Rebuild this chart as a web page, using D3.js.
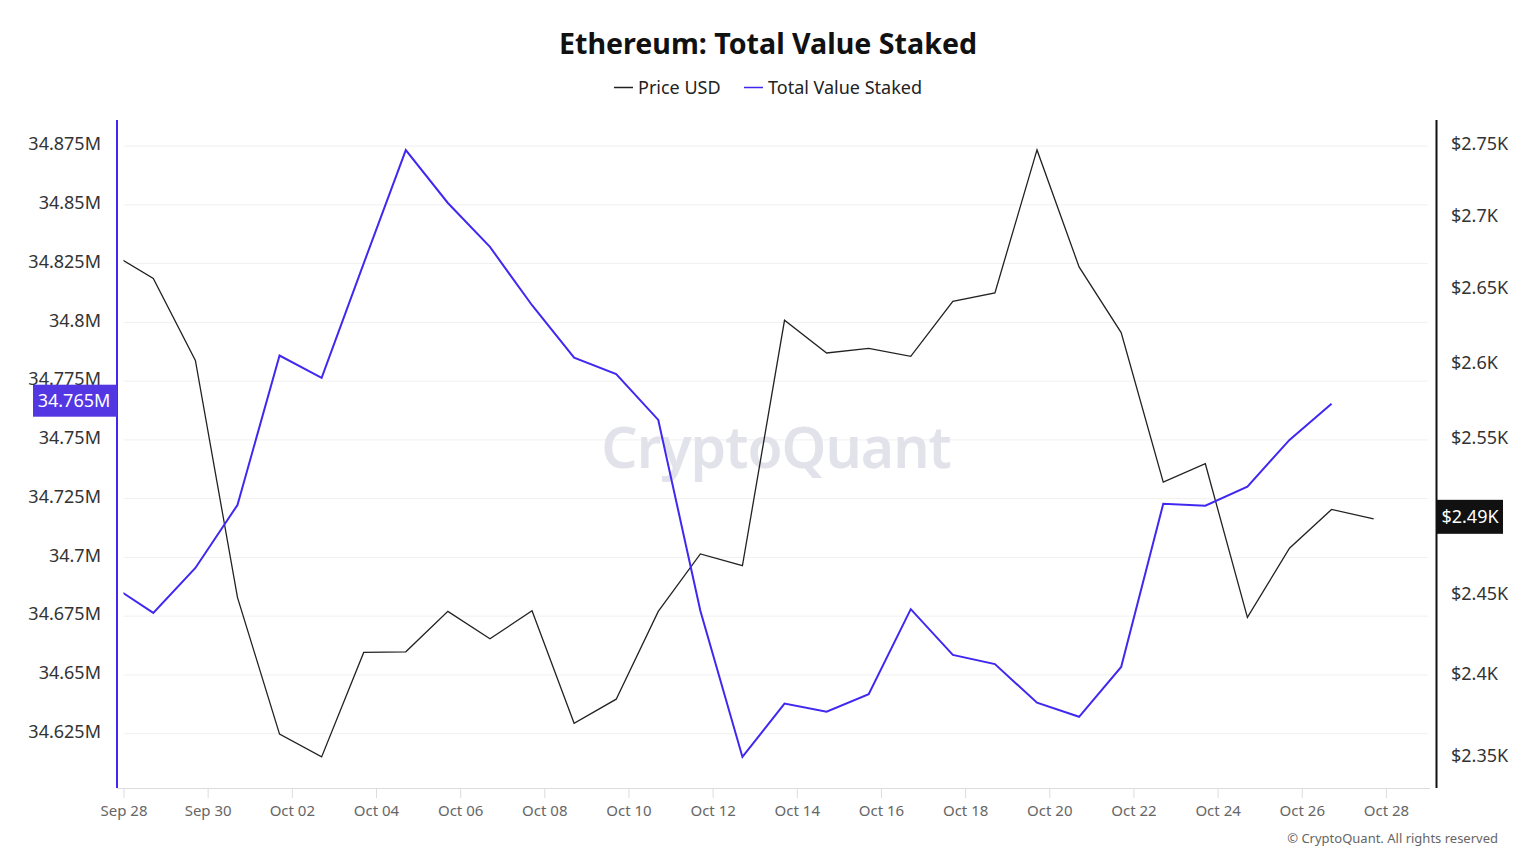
<!DOCTYPE html>
<html>
<head>
<meta charset="utf-8">
<script src="https://cdn.jsdelivr.net/npm/d3@7"></script>
<style>
  html, body { margin: 0; padding: 0; background: #fff; }
  svg { display: block; font-family: "Noto Sans", "Open Sans", sans-serif; }
</style>
</head>
<body>
<svg id="chart" width="1536" height="864"></svg>
<script>
// ---- data ----
const dates = [
  "2024-09-27 17:00","2024-09-28 17:00","2024-09-29 17:00","2024-09-30 17:00",
  "2024-10-01 17:00","2024-10-02 17:00","2024-10-03 17:00","2024-10-04 17:00",
  "2024-10-05 17:00","2024-10-06 17:00","2024-10-07 17:00","2024-10-08 17:00",
  "2024-10-09 17:00","2024-10-10 17:00","2024-10-11 17:00","2024-10-12 17:00",
  "2024-10-13 17:00","2024-10-14 17:00","2024-10-15 17:00","2024-10-16 17:00",
  "2024-10-17 17:00","2024-10-18 17:00","2024-10-19 17:00","2024-10-20 17:00",
  "2024-10-21 17:00","2024-10-22 17:00","2024-10-23 17:00","2024-10-24 17:00",
  "2024-10-25 17:00","2024-10-26 17:00","2024-10-27 17:00"
];
// Total Value Staked (millions of ETH)
const totalValueStaked = [
  34.6882, 34.6764, 34.6955, 34.7223, 34.7859, 34.7764, 34.8251, 34.8733,
  34.8508, 34.8321, 34.8073, 34.7850, 34.7780, 34.7585, 34.6773, 34.6151,
  34.6378, 34.6344, 34.6418, 34.6780, 34.6585, 34.6546, 34.6382, 34.6322,
  34.6534, 34.7228, 34.7220, 34.7301, 34.7500, 34.7654, null
];
// Price USD (thousands)
const priceUSD = [
  2.6746, 2.6573, 2.6020, 2.4483, 2.3638, 2.3500, 2.4139, 2.4143,
  2.4395, 2.4224, 2.4399, 2.3704, 2.3851, 2.4395, 2.4758, 2.4683,
  2.6289, 2.6069, 2.6100, 2.6047, 2.6418, 2.6475, 2.7465, 2.6652,
  2.6206, 2.5218, 2.5338, 2.4357, 2.4794, 2.5042, 2.4982
];
const leftTicks = [34.625, 34.65, 34.675, 34.7, 34.725, 34.75, 34.775, 34.8, 34.825, 34.85, 34.875];
const leftTickLabels = ["34.625M","34.65M","34.675M","34.7M","34.725M","34.75M","34.775M","34.8M","34.825M","34.85M","34.875M"];
const rightTicks = [2.35, 2.4, 2.45, 2.55, 2.6, 2.65, 2.7, 2.75];
const rightTickLabels = ["$2.35K","$2.4K","$2.45K","$2.55K","$2.6K","$2.65K","$2.7K","$2.75K"];
const leftDomain = [34.6019, 34.8861];
const rightDomain = [2.3313, 2.7677];
const xDomain = ["2024-09-28 00:00", "2024-10-29 00:00"];

const title = "Ethereum: Total Value Staked";
const seriesNames = ["Price USD", "Total Value Staked"];

// ---- layout ----
const W = 1536, H = 864;
const plot = { left: 123.5, right: 1428, top: 120, bottom: 788 };
const TVS_COLOR = "#4128f0";
const PRICE_COLOR = "#222";
const BADGE_COLOR = "#5337e3";

const parse = d3.timeParse("%Y-%m-%d %H:%M");
const dts = dates.map(parse);

const svg = d3.select("#chart");

const xd = xDomain.map(parse);
const x = d3.scaleTime().domain(xd).range([plot.left, plot.right]);
const yL = d3.scaleLinear().domain(leftDomain).range([plot.bottom, plot.top]);
const yR = d3.scaleLog().domain(rightDomain).range([plot.bottom, plot.top]);

// title
svg.append("text").attr("x", W / 2).attr("y", 54).attr("text-anchor", "middle")
  .attr("font-size", 28.6).attr("font-weight", 700).attr("fill", "#111").text(title);

// legend
const legend = svg.append("g").attr("font-size", 18).attr("fill", "#222");
const legItems = [
  { name: seriesNames[0], color: PRICE_COLOR, x: 614 },
  { name: seriesNames[1], color: TVS_COLOR, x: 744 }
];
legItems.forEach(it => {
  legend.append("line").attr("x1", it.x).attr("x2", it.x + 19).attr("y1", 87.5).attr("y2", 87.5)
    .attr("stroke", it.color).attr("stroke-width", 1.5);
  legend.append("text").attr("x", it.x + 24).attr("y", 94).text(it.name);
});

// gridlines
svg.append("g").selectAll("line").data(leftTicks).join("line")
  .attr("x1", plot.left).attr("x2", plot.right)
  .attr("y1", d => yL(d)).attr("y2", d => yL(d))
  .attr("stroke", "#f0f0f0").attr("stroke-width", 1);

// watermark
svg.append("text").attr("x", 776).attr("y", 468).attr("text-anchor", "middle")
  .attr("font-size", 57).attr("font-weight", 600).attr("fill", "#e2e2ea")
  .attr("letter-spacing", -1).text("CryptoQuant");

// x axis
const xAxis = d3.axisBottom(x)
  .tickValues(d3.timeDay.range(xd[0], xd[1], 2))
  .tickFormat(d3.timeFormat("%b %d"))
  .tickSizeOuter(0).tickSize(10);
const gx = svg.append("g").attr("transform", `translate(0,${plot.bottom})`).call(xAxis);
gx.select(".domain").attr("stroke", "#dcdcdc").attr("d", `M117,0.5H1430`);
gx.selectAll(".tick line").attr("stroke", "#dcdcdc");
gx.selectAll(".tick text").attr("font-size", 15).attr("fill", "#666").attr("dy", "1.0em")
  .attr("font-family", "'Noto Sans', sans-serif");

// left axis
const gl = svg.append("g");
gl.append("line").attr("x1", 117).attr("x2", 117).attr("y1", plot.top).attr("y2", plot.bottom)
  .attr("stroke", TVS_COLOR).attr("stroke-width", 2);
gl.selectAll("text").data(leftTicks).join("text")
  .attr("x", 101).attr("y", d => yL(d) - 2).attr("dy", "0.35em").attr("text-anchor", "end")
  .attr("font-size", 18).attr("fill", "#333").text((d, i) => leftTickLabels[i]);

// right axis
const gr = svg.append("g");
gr.append("line").attr("x1", 1436.5).attr("x2", 1436.5).attr("y1", plot.top).attr("y2", plot.bottom)
  .attr("stroke", "#111").attr("stroke-width", 2);
gr.selectAll("text").data(rightTicks).join("text")
  .attr("x", 1451).attr("y", d => yR(d) - 1).attr("dy", "0.35em").attr("text-anchor", "start")
  .attr("font-size", 18).attr("fill", "#333").text((d, i) => rightTickLabels[i]);

// clip
svg.append("clipPath").attr("id", "clip").append("rect")
  .attr("x", plot.left).attr("y", plot.top)
  .attr("width", plot.right - plot.left).attr("height", plot.bottom - plot.top);

const lines = svg.append("g").attr("clip-path", "url(#clip)");

const priceLine = d3.line().x((d, i) => x(dts[i])).y(d => yR(d));
lines.append("path").datum(priceUSD).attr("d", priceLine)
  .attr("fill", "none").attr("stroke", PRICE_COLOR).attr("stroke-width", 1.3);

const tvsLine = d3.line().defined(d => d != null).x((d, i) => x(dts[i])).y(d => yL(d));
lines.append("path").datum(totalValueStaked).attr("d", tvsLine)
  .attr("fill", "none").attr("stroke", TVS_COLOR).attr("stroke-width", 2);

// last value badges
const lastTvs = totalValueStaked.filter(v => v != null).slice(-1)[0];
const lastPrice = priceUSD[priceUSD.length - 1];

const bl = svg.append("g");
const byL = yL(lastTvs) - 3;
bl.append("rect").attr("x", 33).attr("y", byL - 16).attr("width", 84).attr("height", 32).attr("fill", BADGE_COLOR);
bl.append("text").attr("x", 74).attr("y", byL).attr("dy", "0.35em").attr("text-anchor", "middle")
  .attr("font-size", 18).attr("fill", "#fff").text(lastTvs.toFixed(3) + "M");

const br = svg.append("g");
const byR = yR(lastPrice) - 2;
br.append("rect").attr("x", 1437).attr("y", byR - 17).attr("width", 66).attr("height", 34).attr("fill", "#111");
br.append("text").attr("x", 1470).attr("y", byR).attr("dy", "0.35em").attr("text-anchor", "middle")
  .attr("font-size", 18).attr("fill", "#fff").text("$" + (Math.floor(lastPrice * 100) / 100).toFixed(2) + "K");

// copyright
svg.append("text").attr("x", 1498).attr("y", 843).attr("text-anchor", "end")
  .attr("font-size", 13).attr("fill", "#666").text("© CryptoQuant. All rights reserved");
</script>
</body>
</html>
